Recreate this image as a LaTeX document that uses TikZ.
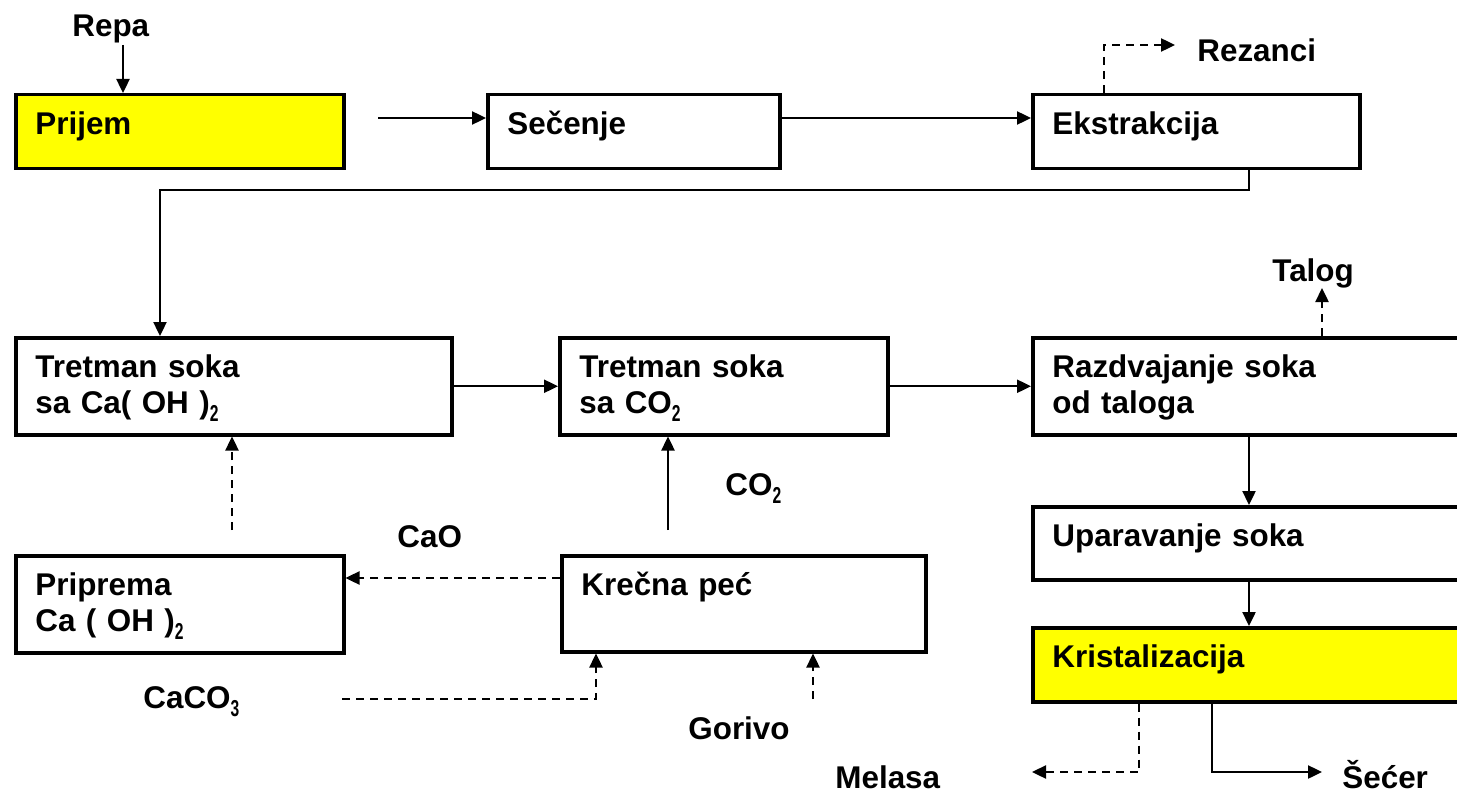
\documentclass[tikz,border=0pt]{standalone}
\usepackage{fontspec}
\setmainfont{Liberation Sans}
\usetikzlibrary{arrows.meta}
\definecolor{pyellow}{RGB}{255,255,0}
\newcommand{\subnum}[1]{\raisebox{-4pt}{\scalebox{0.68}[1]{\fontsize{11.5}{11}\selectfont #1}}}
\begin{document}
\begin{tikzpicture}[x=0.5pt,y=-0.5pt,
  box/.style={draw=black,line width=1.75pt,anchor=north west,inner sep=0pt,fill=white},
  ybox/.style={box,fill=pyellow},
  txt/.style={anchor=base west,inner sep=0pt,font=\fontsize{15.7}{18}\selectfont\bfseries,align=left,text width=200pt},
  lbl/.style={anchor=base west,inner sep=0pt,font=\fontsize{15.7}{18}\selectfont\bfseries},
  arr/.style={draw=black,line width=1.2pt,-{Triangle[length=7pt,width=6.5pt]}},
  darr/.style={arr,dash pattern=on 4pt off 3pt}
]
\useasboundingbox (0,0) rectangle (1457,792);
\clip (0,0) rectangle (1457,792);
\fill[white] (0,0) rectangle (1457,792);
% boxes
\node[ybox,minimum width=164pt,minimum height=37pt] (prijem) at (14,93) {};
\node[box,minimum width=146pt,minimum height=37pt] (secenje) at (486,93) {};
\node[box,minimum width=163.5pt,minimum height=37pt] (ekstr) at (1031,93) {};
\node[box,minimum width=218pt,minimum height=48.5pt] (tret1) at (14,336) {};
\node[box,minimum width=164pt,minimum height=48.5pt] (tret2) at (558,336) {};
\node[box,minimum width=225pt,minimum height=48.5pt] (razd) at (1031,336) {};
\node[box,minimum width=225pt,minimum height=36.5pt] (upar) at (1031,505) {};
\node[ybox,minimum width=225pt,minimum height=37pt] (krist) at (1031,626) {};
\node[box,minimum width=164pt,minimum height=48.5pt] (prip) at (14,554) {};
\node[box,minimum width=182pt,minimum height=48pt] (krec) at (560,554) {};
% box texts
\node[txt] (tPrijem) at ([shift={(21,41)}]prijem.north west) {Prijem};
\node[txt] (tSecenje) at ([shift={(21,41)}]secenje.north west) {Sečenje};
\node[txt] (tEkstr) at ([shift={(21,41)}]ekstr.north west) {Ekstrakcija};
\node[txt] (tTret1) at ([shift={(21,41)}]tret1.north west) {Tretman soka\\sa Ca( OH )\subnum{2}};
\node[txt] (tTret2) at ([shift={(21,41)}]tret2.north west) {Tretman soka\\sa CO\subnum{2}};
\node[txt] (tRazd) at ([shift={(21,41)}]razd.north west) {Razdvajanje soka\\od taloga};
\node[txt] (tUpar) at ([shift={(21,41)}]upar.north west) {Uparavanje soka};
\node[txt] (tKrist) at ([shift={(21,41)}]krist.north west) {Kristalizacija};
\node[txt] (tPrip) at ([shift={(21,41)}]prip.north west) {Priprema\\Ca ( OH )\subnum{2}};
\node[txt] (tKrec) at ([shift={(21,41)}]krec.north west) {Krečna peć};
% free labels
\node[lbl] (lRepa) at (72,37) {Repa};
\node[lbl] (lRez) at (1197,62) {Rezanci};
\node[lbl] (lTalog) at (1272,281) {Talog};
\node[lbl] (lCO) at (725,495) {CO\subnum{2}};
\node[lbl] (lCaO) at (397,547) {CaO};
\node[lbl] (lCaCO) at (143,708) {CaCO\subnum{3}};
\node[lbl] (lGor) at (688,739) {Gorivo};
\node[lbl] (lMel) at (835,788) {Melasa};
\node[lbl] (lSec) at (1342,788) {Šećer};
% coordinates
\coordinate (cRepa) at (123,45);
\coordinate (cP) at (378,118);
\coordinate (cRez) at (1104,45);
\coordinate (cRezE) at (1175,45);
\coordinate (cE) at (1249,190);
\coordinate (cT) at (160,190);
\coordinate (cTal) at (1322,288);
\coordinate (cX) at (1249,0);
\coordinate (cM) at (1139,772);
\coordinate (cMe) at (1032,772);
\coordinate (cS) at (1212,772);
\coordinate (cSe) at (1322,772);
\coordinate (cCa) at (232,530);
\coordinate (cCo) at (668,530);
\coordinate (cCaO) at (0,578);
\coordinate (cCC) at (342,699);
\coordinate (cCC2) at (596,699);
\coordinate (cG) at (813,699);
% connectors
\draw[arr] (cRepa) -- (cRepa |- prijem.north);
\draw[arr] (cP) -- (cP -| secenje.west);
\draw[arr] (secenje.east |- cP) -- (cP -| ekstr.west);
\draw[darr] (cRez |- ekstr.north) -- (cRez) -- (cRezE);
\draw[arr] (cE |- ekstr.south) -- (cE) -- (cT) -- (cT |- tret1.north);
\draw[arr] (tret1.east) -- (tret2.west);
\draw[arr] (tret2.east) -- (razd.west);
\draw[darr] (cTal |- razd.north) -- (cTal);
\draw[arr] (cX |- razd.south) -- (cX |- upar.north);
\draw[arr] (cX |- upar.south) -- (cX |- krist.north);
\draw[darr] (cM |- krist.south) -- (cM) -- (cMe);
\draw[arr] (cS |- krist.south) -- (cS) -- (cSe);
\draw[darr] (cCa) -- (cCa |- tret1.south);
\draw[arr] (cCo) -- (cCo |- tret2.south);
\draw[darr] (krec.west |- cCaO) -- (prip.east |- cCaO);
\draw[darr] (cCC) -- (cCC2) -- (cCC2 |- krec.south);
\draw[darr] (cG) -- (cG |- krec.south);
\end{tikzpicture}
\end{document}
